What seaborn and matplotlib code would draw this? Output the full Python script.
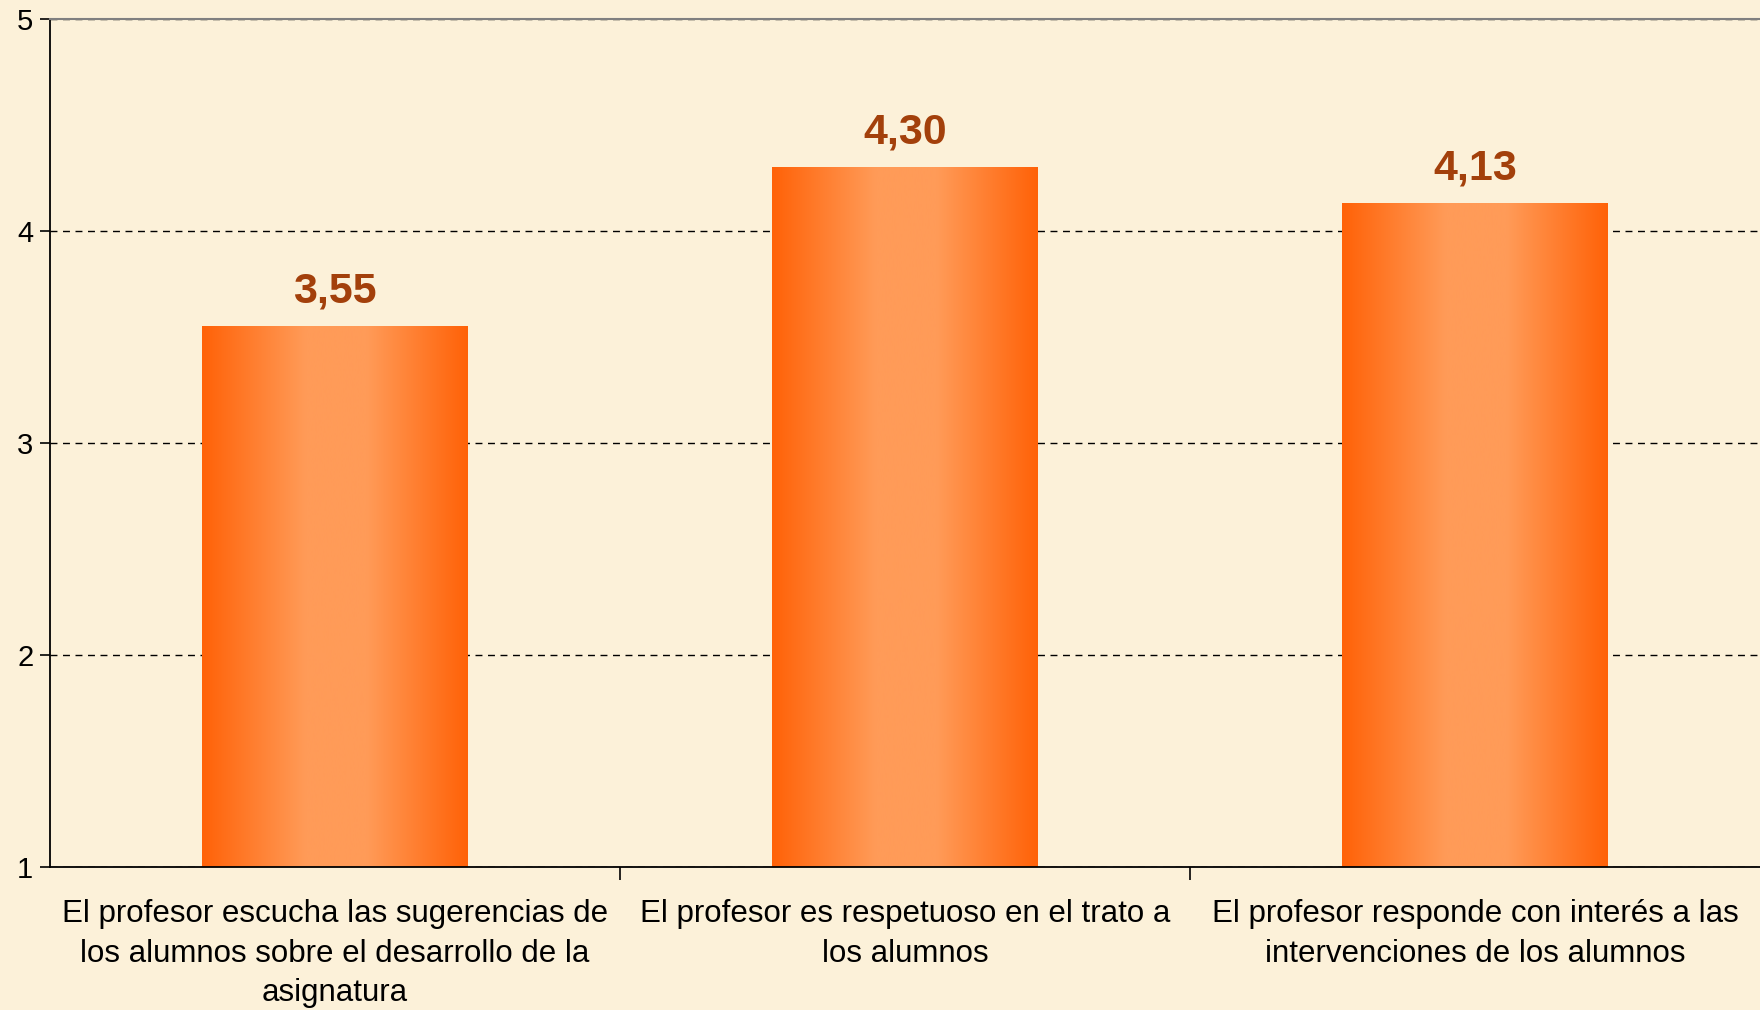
import numpy as np
import pandas as pd
import seaborn as sns
import matplotlib.pyplot as plt
from matplotlib.colors import LinearSegmentedColormap

# data
categories = [
    'El profesor escucha las sugerencias de\nlos alumnos sobre el desarrollo de la\nasignatura',
    'El profesor es respetuoso en el trato a\nlos alumnos',
    'El profesor responde con interés a las\nintervenciones de los alumnos',
]
values = [3.55, 4.30, 4.13]
value_labels = ['3,55', '4,30', '4,13']
yticks = [1, 2, 3, 4, 5]

df = pd.DataFrame({'pregunta': categories, 'media': values})

sns.set_theme(style='white')
plt.rcParams['font.family'] = ['Liberation Sans', 'DejaVu Sans']

bg = '#FCF1D9'
fig = plt.figure(figsize=(17.6, 10.1), dpi=100, facecolor=bg)
ax = fig.add_axes([0.0284, 0.1416, 0.9716, 0.8396])
ax.set_facecolor(bg)

sns.barplot(data=df, x='pregunta', y='media', ax=ax, width=0.465,
            color='#FF7A2A', saturation=1, zorder=2)

ymin, ymax = yticks[0], yticks[-1]

# gradient fill for each bar (image placed on the bar's own extent)
grad = LinearSegmentedColormap.from_list(
    'naranja', [(0.0, '#FF6208'), (0.39, '#FF9B58'), (0.62, '#FF9B58'), (1.0, '#FF6208')])
row = np.linspace(0, 1, 256).reshape(1, -1)
for p in ax.patches:
    x0, y0 = p.get_x(), p.get_y()
    w, h = p.get_width(), p.get_height()
    p.set_facecolor('none')
    p.set_edgecolor('none')
    ax.imshow(row, cmap=grad, aspect='auto',
              extent=[x0, x0 + w, max(y0, ymin), y0 + h],
              zorder=2, interpolation='bicubic')

for i, (v, lab) in enumerate(zip(values, value_labels)):
    ax.annotate(lab, (i, v), xytext=(0, 11), textcoords='offset points',
                ha='center', va='bottom', fontsize=31, fontweight='bold',
                color='#A3400B')

ax.set_xlim(-0.5, len(categories) - 0.5)
ax.set_ylim(ymin, ymax)
ax.set_yticks(yticks)
ax.set_yticklabels([str(t) for t in yticks], fontsize=21, color='black')

ax.set_xticks(range(len(categories)))
ax.set_xticklabels(categories, fontsize=22.5, color='black', linespacing=1.42)
ax.tick_params(axis='x', which='major', length=0, pad=23)
# category separators as minor ticks
ax.set_xticks([0.5, 1.5], minor=True)
ax.tick_params(axis='x', which='minor', bottom=True, length=9, width=1.2,
               color='black', direction='out')
ax.tick_params(axis='y', length=7, width=1.2, color='black', direction='out',
               left=True, pad=5)

ax.set_xlabel('')
ax.set_ylabel('')

ax.yaxis.grid(True, linestyle=(0, (5, 4)), color='black', linewidth=1)
ax.set_axisbelow(True)

for side in ['left', 'bottom']:
    ax.spines[side].set_color('black')
    ax.spines[side].set_linewidth(1.3)
ax.spines['top'].set_color('#808080')
ax.spines['top'].set_linewidth(1.5)
ax.spines['right'].set_visible(False)

fig.savefig('out.png', dpi=100, facecolor=bg)
